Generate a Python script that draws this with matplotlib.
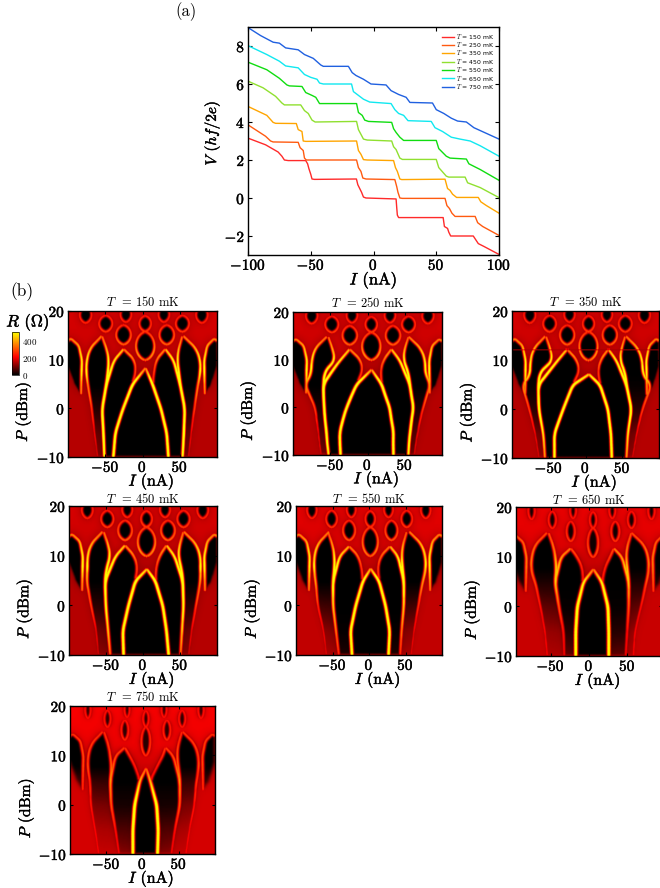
import numpy as np
import matplotlib
matplotlib.use("Agg")
import matplotlib.pyplot as plt
import matplotlib.patheffects as pe
from matplotlib.colors import LinearSegmentedColormap
from matplotlib.path import Path

plt.rcParams['font.family'] = ['cmr10', 'DejaVu Serif']
plt.rcParams['mathtext.fontset'] = 'cm'
plt.rcParams['axes.unicode_minus'] = False
plt.rcParams['axes.linewidth'] = 1.0

TEMPS_MK = [150, 250, 350, 450, 550, 650, 750]
LINE_COLORS = ['#ff2a2a', '#ff5a10', '#ffa500', '#90e030', '#10dd10', '#10e8f0', '#2060e0']

# ---- panel (a): V(I) curves
I_150 = [-100,-86,-76,-73,-71,-68,-54,-52.5,-51.5,-50,-49,-47,-13.6,-12.5,-11,-9.5,-8,-6,18,18.5,19,20,22,55.5,56.5,59,60,61.5,63,79.5,81,83.5,88,100]
V_150 = [3.15,2.8,2.42,2.2,2.0,1.97,1.97,1.8,1.55,1.25,1.0,0.98,1.0,0.7,0.5,0.3,0.05,0,-0.05,-0.5,-0.9,-1.03,-1.03,-1.03,-1.5,-1.6,-1.8,-2,-2,-2,-2.15,-2.4,-2.55,-2.97]
I_250 = [-100,-86,-82,-80,-60,-58.5,-56,-55,-53.5,-13.5,-12,-10,-8.5,-6,17,18.5,19.5,21,23,57,58.5,60.5,62.5,65,81,83,87,100]
V_250 = [3.85,3.25,3.0,2.95,2.93,2.65,2.5,2.1,2.0,2.0,1.6,1.4,1.05,1.0,0.97,0.6,0.3,0,-0.02,-0.02,-0.4,-0.55,-0.8,-0.97,-0.97,-1.3,-1.5,-1.97]
I_350 = [-100,-85,-80,-78,-61.5,-60,-57,-56,-54,-13.5,-12,-10,-8,-5,16,17.5,19,21,22.5,57,59,61,63,66.2,83.5,85.5,90,100]
V_350 = [4.82,4.35,3.98,3.93,3.92,3.6,3.5,3.0,2.98,3.0,2.5,2.3,2.02,2.0,1.97,1.6,1.4,1.0,0.97,0.99,0.5,0.4,0.2,0.03,0.03,-0.2,-0.4,-0.8]
I_450 = [-100,-88,-78,-73,-71,-58,-55,-52,-49,-46.5,-13.5,-12,-10,-8,-5,14.5,16,18,21,23,50,52,54,58,60,73,75,85,100]
V_450 = [6.15,5.8,5.35,5.0,4.9,4.9,4.6,4.45,4.1,4.0,4.03,3.6,3.35,3.1,3.05,3.0,2.7,2.55,2.1,2.03,2.03,1.6,1.45,1.15,1.1,1.1,0.8,0.55,0.02]
I_550 = [-100,-85,-75,-69,-67,-57,-54,-49,-46,-43,-13.5,-12,-9,-7,-4,14.5,16,18,21,24,50,52,55,58,61,74,76,85,100]
V_550 = [7.15,6.75,6.3,5.95,5.9,5.87,5.55,5.4,5.3,4.97,4.97,4.5,4.35,4.1,4.03,3.98,3.65,3.45,3.2,3.03,3.03,2.6,2.4,2.2,2.1,2.05,1.8,1.5,0.93]
I_650 = [-100,-85,-75,-70,-60,-55,-50,-45,-43,-40,-17.5,-16,-13,-8,-3,14,17,20,24,27.5,46,49,55,62,69,77,85,100]
V_650 = [8.02,7.55,7.2,6.95,6.85,6.5,6.35,6.25,6.05,6.0,6.0,5.6,5.45,5.2,5.05,4.97,4.65,4.45,4.35,4.07,4.03,3.7,3.5,3.2,3.1,3.0,2.75,2.2]
I_750 = [-100,-90,-80,-75,-70,-60,-55,-48,-42,-40,-20,-17,-14,-8,-2,10,14,20,26,29,47,50,56,62,67,74,80,100]
V_750 = [8.97,8.55,8.2,8.15,7.9,7.8,7.55,7.35,7.0,6.93,6.93,6.6,6.45,6.25,6.0,5.95,5.65,5.45,5.3,5.03,5.0,4.65,4.45,4.2,4.05,4.0,3.7,3.1]
CURVES_I = [I_150, I_250, I_350, I_450, I_550, I_650, I_750]
CURVES_V = [V_150, V_250, V_350, V_450, V_550, V_650, V_750]

EDGE_P = [-10, -5, 0, 5]
CENTER_LEFT  = [[-39,-36,-26,-13],[-36,-37,-28,-14],[-42,-42,-30,-17],[-26,-27,-19.5,-10],[-23,-25,-18,-8],[-17,-17,-15,-7],[-13,-13,-10.5,-3]]
CENTER_RIGHT = [[35,33,25,14],[35,35,30,19],[36,35,31,20],[35,32,27,17],[27,28.6,23,14],[26,26,25,17],[21,22,20,11]]
APEX_I = [4.5,6,5,5.5,2.5,6,5.5]
APEX_P = [8.4,8,7.2,7.4,7.5,7.6,7.5]
STEP1_LEFT  = [[-51,-52,-54,-48],[-52,-55,-58,-59],[-55,-57,-63,-64],[-44,-47,-50,-51],[-41,-45,-49,-49],[-32,-33,-39,-44],[-32,-37,-43,-44]]
STEP1_RIGHT = [[54,56,57,51],[55,57.5,62,57],[56,58,63,56],[51,53,55,54],[43,45,48,48],[48,50,52,52],[40,45,52,52]]
STEP2_LEFT  = [[-60,-64,-68,-73],[-62,-66,-70,-84],[-63,-68,-76,-86],[-60,-63,-70,-76],[-58,-62,-70,-73],[-54,-57,-63,-70],[-60,-65,-71,-72]]
STEP2_RIGHT = [[62,66,70,75],[63,68,75,85],[64,70,78,90],[62,66,72,78],[58,62,68,74],[58,60,68,75],[60,65,72,75]]
INNER_AT_8  = [-8,-7,-8,-8,-8,-10,-11]
INNER_AT_10 = [-11,-11,-12,-13,-13,-17,-19]
STEP1_TOP_P = [12.3,12.3,12.3,12.2,12,11.8,11.7]

# upper part of the lattice (nA, dBm)
M1_OUT_I, M1_OUT_P = [-38,-25], [10,12.3]
P1_OUT_I, P1_OUT_P = [42,31], [10,12.3]
M2_IN_I, M2_IN_P = [-45,-47,-54], [10,12,15]
P2_IN_I, P2_IN_P = [47,48,54], [10,12,15]
M2_OUT_I, M2_OUT_P = [-75,-75,-70,-54], [7,10,12.5,15]
P2_OUT_I, P2_OUT_P = [78,78,72,55], [7,10,12.5,15]
M3_I, M3_P = [-100,-90,-82,-81,-85,-96,-100], [9,5,3,10,13,14.5,14]
P3_I, P3_P = [100,92,84,83,87,97,100], [9,5,3,10,13,14.5,14]
LOBE_I  = [4,-25,33,-49,4,54,-76,-22,29,80]
LOBE_P  = [12.9,15.2,15.2,17.5,17.5,17.5,19.3,19.4,19.4,19.3]
LOBE_HI = [12.5,10,10,9,8,9,8,7.5,7.5,8]
LOBE_HP = [2.9,2.0,2.0,1.7,1.6,1.7,1.7,1.6,1.6,1.7]
LOBE_WIDTH = [1,1,1,.95,.85,.55,.5]
LOBE_DEPTH = [1,1,1,1,.98,.9,.8]
BACKGROUND = [.30,.30,.30,.30,.32,.33,.35]
BG_GAIN_P = [-10,8,12,20]
BG_GAIN = [1,1,1.12,1.18]
RIDGE_SIG_I = [1.5,1.5,1.5,1.6,1.6,1.7,1.8]
MASK_SIG_I = [1.0,1.0,1.0,1.2,1.4,1.9,2.2]

DEPTH_P = [-10,-5,0,5,8]
DEPTH_STEP1 = [[1,1,1,1,1],[1,1,1,1,1],[1,1,1,1,1],[.9,1,1,1,1],[.8,.95,1,1,1],[.45,.75,.95,1,1],[.3,.55,.85,1,1]]
DEPTH_STEP2 = [[.25,.4,.75,1,1],[.3,.5,.8,1,1],[.15,.3,.7,.95,1],[.2,.35,.7,1,1],[.1,.25,.6,1,1],[.1,.2,.45,.8,1],[.05,.15,.35,.7,1]]

AMP_P = [-10,-5,0,5,8,11,14,17,20]
AMP_CENTER = [[1,1,1,1,.6,.55,.5,.45,.4]]*4 + [[1,1,1,.95,.55,.5,.45,.42,.4],[1,1,1,.8,.5,.45,.42,.4,.4],[1,1,1,.65,.45,.42,.4,.4,.4]]
AMP_STEP1 = [[.85,1,1,1,.9,.75,.55,.48,.42],[.8,1,1,1,.9,.75,.55,.48,.42],[.6,.75,1,1,.9,.75,.55,.48,.42],
             [.5,.7,.85,1,.9,.75,.55,.48,.42],[.4,.55,.7,.95,.9,.7,.52,.46,.42],[.32,.36,.48,.7,.7,.58,.48,.44,.4],[.32,.36,.48,.6,.5,.45,.42,.4,.4]]
AMP_STEP2 = [[.28,.32,.45,.6,.85,.75,.58,.48,.42]]*4 + [[.3,.32,.42,.62,.8,.75,.58,.48,.42],[.33,.33,.36,.48,.55,.55,.48,.44,.4],[.34,.34,.37,.42,.46,.46,.43,.41,.4]]
AMP_LOBE = [[.42,.42,.42,.42,.45,.6,.5,.42,.38]]*4 + [[.42,.42,.42,.42,.45,.56,.48,.41,.38],[.38,.38,.38,.38,.4,.47,.42,.38,.36],[.36,.36,.36,.36,.38,.43,.4,.37,.36]]
GLITCH_P = [None,None,12.2,None,None,None,None]

TICK_X = [-50, 0, 50]
TICK_Y = [-10, 0, 10, 20]
AXES_PX = [(68,311,217,457),(293,312,442,455),(512,311,659,458),(69,506,217,655),(296,506,442,655),(516,507,662,656),(70,706,215,854)]
TITLE_PAD = [3.5,3.5,3.5,2,2,2,3.5]

W, H = 660, 888
cmap = LinearSegmentedColormap.from_list('hotish', [(0,'#000000'),(.42,'#ff0000'),(1,'#ffff00')])
BOLDEN = [pe.withStroke(linewidth=0.3, foreground='black')]


def smooth_line(ii, pp, n=130, win=15):
    ii, pp = np.asarray(ii, float), np.asarray(pp, float)
    s = np.r_[0, np.cumsum(np.hypot(ii[1:]-ii[:-1], 4*(pp[1:]-pp[:-1])))]
    t = np.linspace(0, s[-1], n)
    a, b = np.interp(t, s, ii), np.interp(t, s, pp)
    k = np.ones(win)/win
    pad = win//2
    a2 = np.convolve(np.r_[[a[0]]*pad, a, [a[-1]]*pad], k, 'valid')
    b2 = np.convolve(np.r_[[b[0]]*pad, b, [b[-1]]*pad], k, 'valid')
    return a2, b2


def blur(m, sy, sx, dy, dx):
    for axis, s, d in ((0, sy, dy), (1, sx, dx)):
        r = int(np.ceil(3*s/d))
        k = np.exp(-0.5*(np.arange(-r, r+1)*d/s)**2)
        k /= k.sum()
        m = np.apply_along_axis(lambda v: np.convolve(np.r_[[v[0]]*r, v, [v[-1]]*r], k, 'valid'), axis, m)
    return m


def panel_field(j, ig, pg):
    I2, P2 = np.meshgrid(ig, pg)
    pts = np.c_[I2.ravel(), P2.ravel()]
    dI, dP = ig[1]-ig[0], pg[1]-pg[0]
    d = APEX_I[j]-4.5
    ax_i, ax_p = APEX_I[j], APEX_P[j]
    top = STEP1_TOP_P[j]

    cl = smooth_line(CENTER_LEFT[j]+[ax_i], EDGE_P+[ax_p])
    cr = smooth_line(CENTER_RIGHT[j]+[ax_i], EDGE_P+[ax_p])
    inner_p = EDGE_P+[8, 10.2, top]
    m1in = smooth_line(CENTER_LEFT[j]+[INNER_AT_8[j]+d, INNER_AT_10[j]+d, M1_OUT_I[1]+d], inner_p)
    p1in = smooth_line(CENTER_RIGHT[j]+[2*APEX_I[j]-INNER_AT_8[j]-1, 2*APEX_I[j]-INNER_AT_10[j]-1, P1_OUT_I[1]+d], inner_p)
    o_p = EDGE_P+[M1_OUT_P[0], top]
    m1o = smooth_line(STEP1_LEFT[j]+[M1_OUT_I[0]+d, M1_OUT_I[1]+d], o_p)
    p1o = smooth_line(STEP1_RIGHT[j]+[P1_OUT_I[0]+d, P1_OUT_I[1]+d], o_p)
    i2_p = EDGE_P+[7.5]+M2_IN_P
    m2i = smooth_line(STEP1_LEFT[j]+[STEP1_LEFT[j][3]+2]+[v+d for v in M2_IN_I], i2_p)
    p2i = smooth_line(STEP1_RIGHT[j]+[STEP1_RIGHT[j][3]-2]+[v+d for v in P2_IN_I], i2_p)
    o2_p = EDGE_P+M2_OUT_P
    m2o = smooth_line(STEP2_LEFT[j]+M2_OUT_I, o2_p)
    p2o = smooth_line(STEP2_RIGHT[j]+P2_OUT_I, o2_p)

    depth1 = np.interp(P2, DEPTH_P, DEPTH_STEP1[j])
    depth2 = np.interp(P2, DEPTH_P, DEPTH_STEP2[j])
    regions = [(cl, cr, 1.0), (m1o, m1in, depth1), (p1in, p1o, depth1), (m2o, m2i, depth2), (p2i, p2o, depth2)]
    mask = np.zeros_like(I2)
    for s1, s2, dep in regions:
        poly = np.c_[np.r_[s1[0], s2[0][::-1]], np.r_[s1[1], s2[1][::-1]]]
        inside = Path(poly).contains_points(pts).reshape(I2.shape)
        mask = np.maximum(mask, inside*dep)
    for ii, pp in ((M3_I, M3_P), (P3_I, P3_P)):
        inside = Path(np.c_[ii, pp]).contains_points(pts).reshape(I2.shape)
        mask = np.maximum(mask, inside*depth2)

    lines = [
        (cl, AMP_CENTER[j]), (cr, AMP_CENTER[j]),
        ((m1in[0][85:], m1in[1][85:]), AMP_LOBE[j]), ((p1in[0][85:], p1in[1][85:]), AMP_LOBE[j]),
        (m1o, AMP_STEP1[j]), (p1o, AMP_STEP1[j]),
        (m2i, AMP_STEP1[j]), (p2i, AMP_STEP1[j]),
        (m2o, AMP_STEP2[j]), (p2o, AMP_STEP2[j]),
        (smooth_line(M3_I[2:], M3_P[2:]), AMP_STEP2[j]), (smooth_line(P3_I[2:], P3_P[2:]), AMP_STEP2[j]),
    ]
    t = np.linspace(-1, 1, 61)
    for c_i, c_pp, hi, hp in zip(LOBE_I, LOBE_P, LOBE_HI, LOBE_HP):
        hi2 = hi*LOBE_WIDTH[j]
        shape = (1-t**2)**0.62
        ll = c_i+d-hi2*shape
        rr = c_i+d+hi2*shape
        ppp = c_pp+hp*t
        poly = np.c_[np.r_[ll, rr[::-1]], np.r_[ppp, ppp[::-1]]]
        inside = Path(poly).contains_points(pts).reshape(I2.shape)
        mask = np.maximum(mask, inside*LOBE_DEPTH[j])
        lines.append(((ll, ppp), AMP_LOBE[j]))
        lines.append(((rr, ppp), AMP_LOBE[j]))

    m1 = blur(mask, 0.2, MASK_SIG_I[j], dP, dI)
    m2 = blur(mask, 1.0, 6.0, dP, dI)
    base = BACKGROUND[j]*np.interp(P2, BG_GAIN_P, BG_GAIN)*(1-m1)*(1-0.3*m2)

    sI, sP = RIDGE_SIG_I[j], 0.26
    ridge = np.zeros_like(I2)
    for (a, b), amp in lines:
        av = np.interp(b, AMP_P, amp)
        for x, y, v in zip(a, b, av):
            ix = np.where(np.abs(ig-x) < 4*sI)[0]
            iy = np.where(np.abs(pg-y) < 4*sP)[0]
            if ix.size == 0 or iy.size == 0:
                continue
            g = ((pg[iy][:, None]-y)/sP)**2+((ig[ix][None, :]-x)/sI)**2
            val = v*1.3*np.exp(-0.5*g)
            ridge[np.ix_(iy, ix)] = np.maximum(ridge[np.ix_(iy, ix)], val)
    field = np.maximum(base, ridge)
    if GLITCH_P[j] is not None:
        row = np.abs(pg-GLITCH_P[j]) < 0.13
        field[row, :] = np.maximum(field[row, :]*0.55, 0.28)
    return field*510


fig = plt.figure(figsize=(W/100, H/100), dpi=100)


def px_axes(x0, y0, x1, y1):
    return fig.add_axes([x0/W, 1-y1/H, (x1-x0)/W, (y1-y0)/H])


def bolden(ax_):
    for t in ax_.get_xticklabels()+ax_.get_yticklabels()+[ax_.xaxis.label, ax_.yaxis.label]:
        t.set_path_effects(BOLDEN)


ax = px_axes(248, 27, 499, 255)
for xs, ys, c, T in zip(CURVES_I, CURVES_V, LINE_COLORS, TEMPS_MK):
    ax.plot(xs, ys, color=c, lw=1.0, label=f'$T$ = {T} mK')
ax.set_xlim(-100, 100)
ax.set_ylim(-3, 9)
ax.set_xticks([-100, -50, 0, 50, 100])
ax.set_xticklabels(['$-100$', '$-50$', '$0$', '$50$', '$100$'])
ax.set_yticks([-2, 0, 2, 4, 6, 8])
ax.set_yticklabels(['$-2$', '$0$', '$2$', '$4$', '$6$', '$8$'])
ax.tick_params(direction='in', labelsize=11, length=3, top=True, right=True, pad=2)
ax.set_xlabel('$I$ (nA)', fontsize=12, labelpad=-3)
ax.set_ylabel('$V$ ($hf/2e$)', fontsize=11)
ax.yaxis.set_label_coords(-0.104, 0.535)
bolden(ax)
ax.legend(loc='upper right', bbox_to_anchor=(0.985, 0.985), frameon=False,
          prop={'family': 'DejaVu Sans', 'size': 4.4}, handlelength=2.0, handletextpad=0.2,
          labelspacing=-0.1, borderpad=0.2, borderaxespad=0)

fig.text(186/W, 1-12/H, '(a)', fontsize=12, ha='center', va='center')
fig.text(22/W, 1-292/H, '(b)', fontsize=12.5, ha='center', va='center')

ig = np.linspace(-100, 100, 260)
pg = np.linspace(-10, 20, 150)
mesh = None
for j, (T, box) in enumerate(zip(TEMPS_MK, AXES_PX)):
    a = px_axes(*box)
    f = panel_field(j, ig, pg)
    mesh = a.pcolormesh(ig, pg, f, cmap=cmap, vmin=0, vmax=510, shading='gouraud', rasterized=True)
    lim = 95 if j == 5 else 100
    a.set_xlim(-lim, lim)
    a.set_ylim(-10, 20)
    a.set_xticks(TICK_X)
    a.set_xticklabels(['$-50$', '$0$', '$50$'])
    a.set_yticks(TICK_Y)
    a.set_yticklabels(['$-10$', '$0$', '$10$', '$20$'])
    a.tick_params(direction='in', labelsize=11, length=2.5, top=True, right=True, pad=2)
    a.set_xlabel('$I$ (nA)', fontsize=11.5)
    a.xaxis.set_label_coords(0.56, -0.1)
    a.set_ylabel('$P$ (dBm)', fontsize=11.2)
    a.yaxis.set_label_coords(-0.235, 0.31)
    a.set_title(f'$T$  = {T} mK', fontsize=9, pad=TITLE_PAD[j])
    bolden(a)

cax = px_axes(12, 332, 19, 375)
cb = fig.colorbar(mesh, cax=cax, ticks=[0, 200, 400])
cb.ax.tick_params(labelsize=6.5, length=0, pad=2)
cb.ax.set_yticklabels(['$0$', '$200$', '$400$'])
cb.outline.set_linewidth(0.5)
fig.text(28/W, 1-322/H, r'$R$ ($\Omega$)', fontsize=12, ha='center', va='center',
         path_effects=BOLDEN)

fig.savefig('out.png', dpi=100)
